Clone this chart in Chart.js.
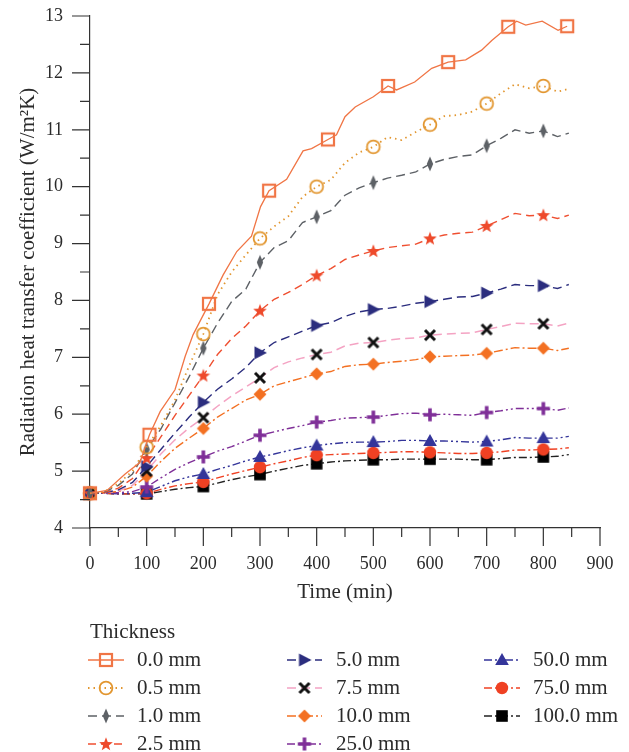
<!DOCTYPE html>
<html>
<head>
<meta charset="utf-8">
<script src="https://cdn.jsdelivr.net/npm/chart.js@4.4.1/dist/chart.umd.min.js"></script>
<style>
  html, body { margin: 0; padding: 0; background: #fff; }
  canvas { display: block; }
</style>
</head>
<body>
<canvas id="chart" width="629" height="752"></canvas>
<script>
// time grid shared by the 0.5 - 100 mm curves (min)
const TIME = [0, 25, 50, 75, 100, 125, 150, 175, 200, 225, 250, 275, 300, 325, 350, 375, 400, 425,
  450, 475, 500, 525, 550, 575, 600, 625, 650, 675, 700, 725, 750, 775, 800, 825, 845];
const MARK_T = [0, 100, 200, 300, 400, 500, 600, 700, 800];

// 0.0 mm has its own sampling (markers every ~105 min)
const TIME_00 = [0, 30, 62, 88, 105, 124, 150, 168, 182, 210, 235, 259, 285, 301, 316, 347, 376, 391,
  420, 435, 450, 468, 500, 526, 541, 573, 603, 632, 663, 691, 709, 738, 753, 769, 798, 826, 842];
const MARK_T_00 = [0, 105, 210, 316, 420, 526, 632, 738, 842];
const V_00 = [4.61, 4.66, 4.95, 5.15, 5.64, 6.05, 6.43, 7.02, 7.40, 7.94, 8.45, 8.86, 9.13, 9.65, 9.93, 10.13, 10.63, 10.67,
  10.83, 10.91, 11.23, 11.40, 11.58, 11.77, 11.70, 11.84, 12.08, 12.19, 12.23, 12.40, 12.57, 12.81, 12.91, 12.84, 12.91, 12.75, 12.82];

const V_05 = [4.61, 4.64, 4.78, 5.00, 5.42, 5.80, 6.25, 6.85, 7.41, 8.10, 8.50, 8.80, 9.09, 9.30, 9.48, 9.82, 10.00, 10.12,
  10.42, 10.60, 10.70, 10.87, 10.82, 10.96, 11.09, 11.24, 11.26, 11.32, 11.46, 11.64, 11.80, 11.73, 11.77, 11.67, 11.72];
const V_10 = [4.61, 4.63, 4.75, 4.95, 5.38, 5.74, 6.20, 6.66, 7.16, 7.60, 7.98, 8.20, 8.67, 8.93, 9.05, 9.37, 9.47, 9.58,
  9.85, 9.98, 10.07, 10.15, 10.20, 10.26, 10.40, 10.48, 10.53, 10.56, 10.72, 10.85, 11.00, 10.94, 10.98, 10.88, 10.94];
const V_25 = [4.61, 4.62, 4.70, 4.87, 5.23, 5.60, 5.98, 6.33, 6.68, 7.05, 7.33, 7.55, 7.82, 8.02, 8.14, 8.28, 8.44, 8.56,
  8.72, 8.80, 8.87, 8.93, 8.96, 8.99, 9.09, 9.15, 9.18, 9.20, 9.31, 9.42, 9.53, 9.49, 9.50, 9.44, 9.50];
const V_50 = [4.61, 4.62, 4.67, 4.80, 5.08, 5.38, 5.67, 5.95, 6.21, 6.44, 6.62, 6.82, 7.08, 7.26, 7.36, 7.46, 7.56, 7.61,
  7.72, 7.80, 7.84, 7.86, 7.90, 7.95, 7.98, 8.02, 8.06, 8.07, 8.13, 8.20, 8.28, 8.26, 8.26, 8.21, 8.28];
const V_75 = [4.61, 4.62, 4.65, 4.75, 5.00, 5.30, 5.55, 5.76, 5.94, 6.14, 6.32, 6.48, 6.64, 6.82, 6.92, 6.99, 7.05, 7.09,
  7.20, 7.25, 7.26, 7.30, 7.33, 7.34, 7.39, 7.41, 7.42, 7.43, 7.49, 7.54, 7.60, 7.59, 7.59, 7.55, 7.60];
const V_100 = [4.61, 4.62, 4.64, 4.72, 4.91, 5.17, 5.40, 5.58, 5.75, 5.95, 6.10, 6.25, 6.35, 6.50, 6.57, 6.64, 6.71, 6.75,
  6.84, 6.87, 6.88, 6.91, 6.93, 6.96, 7.01, 7.02, 7.03, 7.04, 7.07, 7.12, 7.17, 7.16, 7.16, 7.12, 7.16];
const V_250 = [4.61, 4.62, 4.62, 4.64, 4.72, 4.88, 5.03, 5.15, 5.25, 5.35, 5.43, 5.53, 5.63, 5.69, 5.75, 5.80, 5.86, 5.89,
  5.93, 5.94, 5.95, 5.98, 6.01, 6.02, 5.99, 6.00, 5.99, 5.98, 6.03, 6.06, 6.10, 6.10, 6.10, 6.07, 6.11];
const V_500 = [4.61, 4.61, 4.60, 4.61, 4.63, 4.73, 4.83, 4.90, 4.95, 5.03, 5.10, 5.18, 5.25, 5.30, 5.36, 5.41, 5.45, 5.48,
  5.50, 5.51, 5.51, 5.52, 5.54, 5.54, 5.53, 5.53, 5.52, 5.51, 5.52, 5.55, 5.59, 5.58, 5.58, 5.58, 5.61];
const V_750 = [4.61, 4.61, 4.60, 4.60, 4.61, 4.68, 4.74, 4.78, 4.81, 4.88, 4.95, 5.01, 5.07, 5.13, 5.18, 5.24, 5.28, 5.29,
  5.30, 5.31, 5.32, 5.33, 5.34, 5.34, 5.33, 5.32, 5.31, 5.31, 5.32, 5.34, 5.37, 5.37, 5.38, 5.39, 5.41];
const V_1000 = [4.61, 4.61, 4.60, 4.60, 4.60, 4.64, 4.68, 4.71, 4.73, 4.79, 4.85, 4.90, 4.94, 5.00, 5.05, 5.10, 5.13, 5.16,
  5.18, 5.19, 5.20, 5.20, 5.21, 5.21, 5.21, 5.21, 5.21, 5.20, 5.20, 5.22, 5.24, 5.24, 5.25, 5.26, 5.29];

const LABELS = ['0.0 mm', '0.5 mm', '1.0 mm', '2.5 mm', '5.0 mm', '7.5 mm', '10.0 mm', '25.0 mm', '50.0 mm', '75.0 mm', '100.0 mm'];
const X_TICKS = [0, 100, 200, 300, 400, 500, 600, 700, 800, 900];
const Y_TICKS = [4, 5, 6, 7, 8, 9, 10, 11, 12, 13];

const FONT = "'Liberation Serif', 'DejaVu Serif', serif";
const TEXT = '#2b2b2b';

// marker glyphs drawn once on small canvases, used as point styles
function marker(draw) {
  const c = document.createElement('canvas');
  c.width = 18; c.height = 18;
  const g = c.getContext('2d');
  g.translate(9, 9);
  draw(g);
  return c;
}
function poly(g, pts, color) {
  g.beginPath();
  pts.forEach((p, i) => i ? g.lineTo(p[0], p[1]) : g.moveTo(p[0], p[1]));
  g.closePath();
  g.fillStyle = color;
  g.fill();
}

const M = {
  openSquare: marker(g => { g.strokeStyle = '#F07545'; g.lineWidth = 2.2; g.strokeRect(-6, -6, 12, 12); }),
  openCircle: marker(g => { g.strokeStyle = '#E2962F'; g.lineWidth = 1.8; g.beginPath(); g.arc(0, 0, 6.4, 0, Math.PI * 2); g.stroke(); }),
  thinDiamond: marker(g => poly(g, [[0, -7.5], [3.2, 0], [0, 7.5], [-3.2, 0]], '#5D6166')),
  star: marker(g => {
    const pts = [];
    for (let i = 0; i < 10; i++) {
      const r = i % 2 ? 3 : 7.2;
      const a = -Math.PI / 2 + i * Math.PI / 5;
      pts.push([r * Math.cos(a), r * Math.sin(a) + 0.5]);
    }
    poly(g, pts, '#EE4A2B');
  }),
  triRight: marker(g => poly(g, [[-5.5, -6.5], [7, 0], [-5.5, 6.5]], '#2B2D7E')),
  cross: marker(g => {
    g.strokeStyle = '#111'; g.lineWidth = 3;
    g.beginPath(); g.moveTo(-5, -5); g.lineTo(5, 5); g.moveTo(-5, 5); g.lineTo(5, -5); g.stroke();
  }),
  diamond: marker(g => poly(g, [[0, -6.5], [6.5, 0], [0, 6.5], [-6.5, 0]], '#F37022')),
  plus: marker(g => {
    g.strokeStyle = '#7F2F98'; g.lineWidth = 3.6;
    g.beginPath(); g.moveTo(-6.5, 0); g.lineTo(6.5, 0); g.moveTo(0, -6.5); g.lineTo(0, 6.5); g.stroke();
  }),
  triUp: marker(g => poly(g, [[0, -7], [6.8, 5], [-6.8, 5]], '#34359A')),
  dot: marker(g => { g.fillStyle = '#EF4123'; g.beginPath(); g.arc(0, 0, 6.2, 0, Math.PI * 2); g.fill(); }),
  square: marker(g => { g.fillStyle = '#000'; g.fillRect(-5.8, -5.8, 11.6, 11.6); })
};

const SERIES = [
  { t: TIME_00, v: V_00, marks: MARK_T_00, color: '#F07545', width: 1.3, dash: [], marker: M.openSquare },
  { t: TIME, v: V_05, marks: MARK_T, color: '#E2962F', width: 1.8, dash: [1.5, 4], marker: M.openCircle },
  { t: TIME, v: V_10, marks: MARK_T, color: '#5D6166', width: 1.4, dash: [9, 5], marker: M.thinDiamond },
  { t: TIME, v: V_25, marks: MARK_T, color: '#EF4F30', width: 1.4, dash: [8, 5], marker: M.star },
  { t: TIME, v: V_50, marks: MARK_T, color: '#2B2D7E', width: 1.4, dash: [9, 5], marker: M.triRight },
  { t: TIME, v: V_75, marks: MARK_T, color: '#F4A3C3', width: 1.5, dash: [9, 5], marker: M.cross },
  { t: TIME, v: V_100, marks: MARK_T, color: '#F37022', width: 1.4, dash: [9, 3, 2, 3], marker: M.diamond },
  { t: TIME, v: V_250, marks: MARK_T, color: '#7F2F98', width: 1.4, dash: [8, 3, 2, 3, 2, 3], marker: M.plus },
  { t: TIME, v: V_500, marks: MARK_T, color: '#34359A', width: 1.4, dash: [8, 3, 2, 3, 2, 3], marker: M.triUp },
  { t: TIME, v: V_750, marks: MARK_T, color: '#EF4123', width: 1.4, dash: [8, 3, 2, 3], marker: M.dot },
  { t: TIME, v: V_1000, marks: MARK_T, color: '#222222', width: 1.4, dash: [8, 3, 2, 3], marker: M.square }
];

// ticks, axis titles and the three-column legend
const decor = {
  id: 'decor',
  afterDraw(chart) {
    const { ctx, chartArea: a, scales: { x, y } } = chart;
    ctx.save();
    ctx.strokeStyle = '#333';
    ctx.lineWidth = 1.2;
    ctx.beginPath();
    for (let v = 4; v <= 13; v += 0.5) {
      const py = y.getPixelForValue(v);
      ctx.moveTo(a.left, py);
      ctx.lineTo(a.left - (v % 1 === 0 ? 18 : 10), py);
    }
    for (let v = 0; v <= 900; v += 50) {
      const px = x.getPixelForValue(v);
      ctx.moveTo(px, a.bottom);
      ctx.lineTo(px, a.bottom + (v % 100 === 0 ? 18 : 9));
    }
    ctx.stroke();

    ctx.fillStyle = TEXT;
    ctx.font = '21px ' + FONT;
    ctx.textAlign = 'center';
    ctx.textBaseline = 'middle';
    ctx.fillText('Time (min)', (a.left + a.right) / 2, 592);
    ctx.save();
    ctx.translate(28, (a.top + a.bottom) / 2);
    ctx.rotate(-Math.PI / 2);
    ctx.fillText('Radiation heat transfer coefficient (W/m\u00B2K)', 0, 0);
    ctx.restore();

    ctx.textAlign = 'left';
    ctx.fillText('Thickness', 90, 632);
    // [line start, line end, text start] per legend column
    const cols = [[88, 124, 137], [287, 322, 336], [484, 520, 533]];
    const rows = [660, 688, 716, 744];
    SERIES.forEach((s, i) => {
      const c = cols[Math.floor(i / 4)];
      const ry = rows[i % 4];
      ctx.save();
      ctx.strokeStyle = s.color;
      ctx.lineWidth = s.width;
      ctx.setLineDash(s.dash);
      ctx.beginPath();
      ctx.moveTo(c[0], ry);
      ctx.lineTo(c[1], ry);
      ctx.stroke();
      ctx.restore();
      ctx.drawImage(s.marker, (c[0] + c[1]) / 2 - 9, ry - 9);
      ctx.fillText(LABELS[i], c[2], ry);
    });
    ctx.restore();
  }
};

Chart.defaults.font.family = FONT;
Chart.defaults.color = TEXT;

new Chart(document.getElementById('chart'), {
  type: 'line',
  data: {
    datasets: SERIES.map((s, i) => ({
      label: LABELS[i],
      data: s.t.map((t, k) => ({ x: t, y: s.v[k] })),
      borderColor: s.color,
      borderWidth: s.width,
      borderDash: s.dash,
      pointStyle: s.marker,
      pointRadius: s.t.map(t => s.marks.includes(t) ? 6 : 0),
      pointHoverRadius: 0,
      fill: false,
      tension: 0,
      clip: false
    }))
  },
  options: {
    responsive: false,
    animation: false,
    events: [],
    layout: { padding: { left: 0, top: 16, right: 29, bottom: 144 } },
    plugins: { legend: { display: false }, tooltip: { enabled: false } },
    scales: {
      x: {
        type: 'linear',
        min: 0,
        max: 900,
        afterBuildTicks: s => { s.ticks = X_TICKS.map(v => ({ value: v })); },
        afterFit: s => { s.height = 80; s.paddingLeft = 0; s.paddingRight = 0; },
        ticks: { font: { size: 18 }, color: TEXT, padding: 17, maxRotation: 0 },
        grid: { display: false },
        border: { color: '#333', width: 1.2 }
      },
      y: {
        min: 4,
        max: 13,
        afterBuildTicks: s => { s.ticks = Y_TICKS.map(v => ({ value: v })); },
        afterFit: s => { s.width = 90; s.paddingTop = 0; s.paddingBottom = 0; },
        ticks: { font: { size: 18 }, color: TEXT, padding: 19 },
        grid: { display: false },
        border: { color: '#333', width: 1.2 }
      }
    }
  },
  plugins: [decor]
});
</script>
</body>
</html>
